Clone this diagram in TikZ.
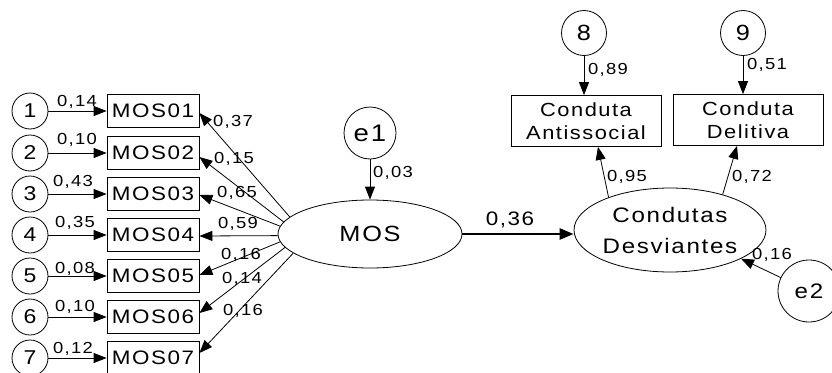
\documentclass[tikz,border=0pt]{standalone}
\usepackage{fontspec}
\setmainfont{Liberation Sans}
\newfontfamily\af[LetterSpace=8,FakeStretch=1.15]{Liberation Sans}
\usetikzlibrary{arrows.meta,calc,shapes.geometric}
\begin{document}
\begin{tikzpicture}[x=1pt,y=-1pt,
 every node/.style={inner sep=0pt},
 obs/.style={draw, line width=0.8pt, minimum width=92pt, minimum height=33pt, font=\af\fontsize{19.5}{22}\selectfont},
 bigobs/.style={draw, line width=0.8pt, minimum width=150pt, minimum height=51pt, align=center, font=\af\fontsize{19}{23}\selectfont},
 err/.style={draw, circle, line width=0.8pt, minimum size=36pt, font=\af\fontsize{20}{22}\selectfont},
 lat/.style={draw, ellipse, line width=0.8pt, align=center},
 lbl/.style={font=\af\fontsize{16}{18}\selectfont},
 arr/.style={line width=0.8pt, -{Triangle[length=13pt,width=10pt]}},
]
\useasboundingbox (0,0) rectangle (832,372);
% observed indicators and their errors
\foreach \i/\y in {1/111,2/153,3/194,4/235,5/276,6/317,7/358} {
  \node[obs] (m\i) at (153,\y) {MOS0\i};
  \node[err] (c\i) at (30,\y) {\i};
  \draw[arr] (c\i) -- (m\i);
}
\node[lbl] at (77,102) {0,14};
\node[lbl] at (77,140) {0,10};
\node[lbl] at (73,182) {0,43};
\node[lbl] at (75,223) {0,35};
\node[lbl] at (75,269) {0,08};
\node[lbl] at (75,307) {0,10};
\node[lbl] at (73,349) {0,12};
% latent MOS
\node[lat, minimum width=184pt, minimum height=68pt, font=\af\fontsize{22}{24}\selectfont] (mos) at (370,234) {MOS};
\node[err, minimum size=52pt, font=\af\fontsize{24}{26}\selectfont] (e1) at (370,133) {e1};
\draw[arr] (e1) -- (mos);
\node[lbl] at (393,173) {0,03};
\draw[arr] (mos.168.8) -- ($(m1.east)+(0,2)$);
\draw[arr] (mos.172.8) -- ($(m2.east)+(0,4)$);
\draw[arr] (mos.175.6) -- ($(m3.east)+(0,1)$);
\draw[arr] (mos.181) -- ($(m4.east)+(0,1)$);
\draw[arr] (mos.185.8) -- ($(m5.east)+(0,-1)$);
\draw[arr] (mos.189.2) -- ($(m6.east)+(0,-4)$);
\draw[arr] (mos.194.4) -- ($(m7.east)+(0,-5)$);
\node[lbl] at (233,122) {0,37};
\node[lbl] at (234,159) {0,15};
\node[lbl] at (237,193) {0,65};
\node[lbl] at (238,224) {0,59};
\node[lbl] at (241,255) {0,16};
\node[lbl] at (242,279) {0,14};
\node[lbl] at (243,311) {0,16};
% latent Condutas Desviantes
\node[lat, minimum width=192pt, minimum height=84pt, font=\af\fontsize{21}{31}\selectfont] (cd) at (670,230) {Condutas\\Desviantes};
\draw[line width=2.6pt, -{Triangle[length=14pt,width=11pt]}] (mos.east) -- (mos.east -| cd.west);
\node[font=\af\fontsize{19.5}{22}\selectfont] at (510,220) {0,36};
% Conduta boxes
\node[bigobs] (ca) at (586,121) {Conduta\\Antissocial};
\node[bigobs] (cdl) at (748,120) {Conduta\\Delitiva};
\node[err, minimum size=45pt, font=\af\fontsize{22}{24}\selectfont] (c8) at (584,33) {8};
\node[err, minimum size=45pt, font=\af\fontsize{22}{24}\selectfont] (c9) at (743,33) {9};
\draw[arr] (c8) -- (c8 |- ca.north);
\draw[arr] (c9) -- (c9 |- cdl.north);
\node[lbl] at (608,70) {0,89};
\node[lbl] at (767,65) {0,51};
\draw[arr] (cd.152.4) -- ($(ca.south)+(12,0)$);
\draw[arr] (cd.34.6) -- ($(cdl.south)+(-11,0)$);
\node[lbl] at (627,177) {0,95};
\node[lbl] at (752,177) {0,72};
% e2
\node[err, minimum size=62pt, font=\af\fontsize{21}{24}\selectfont] (e2) at (809,291) {e2};
\draw[arr] (e2) -- (cd.-22);
\node[lbl] at (772,255) {0,16};
\end{tikzpicture}
\end{document}
